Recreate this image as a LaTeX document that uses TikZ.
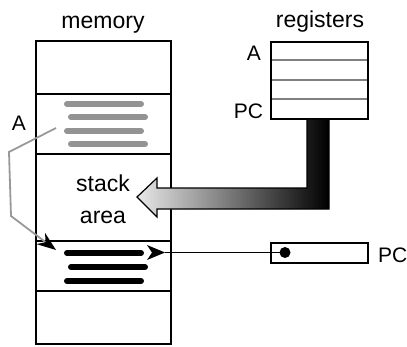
\documentclass[tikz,border=0pt]{standalone}
\usepackage{fontspec}
\setmainfont{Liberation Sans}
\usetikzlibrary{arrows.meta}
\begin{document}
\begin{tikzpicture}[x=1pt,y=-1pt,
  box/.style={draw=black,line width=2pt},
  lbl/.style={font=\fontsize{23}{25}\selectfont, inner sep=0pt, anchor=base},
  caplbl/.style={font=\fontsize{21}{23}\selectfont, inner sep=0pt, anchor=base},
  graybar/.style={line width=6pt,line cap=round,draw=gray!85},
  blackbar/.style={line width=6pt,line cap=round,draw=black},
  regline/.style={draw=gray,line width=1.5pt}]
\useasboundingbox (0,0) rectangle (407,346);
% memory column
\draw[box] (36,41) rectangle (171,344);
\foreach \yy in {94,154,241,291} \draw[box] (36,\yy) -- (171,\yy);
% gray instruction bars (A)
\draw[graybar] (67,104) -- (141,104);
\draw[graybar] (71,117) -- (145,117);
\draw[graybar] (67,131) -- (141,131);
\draw[graybar] (71,144) -- (145,144);
% black instruction bars (current)
\draw[blackbar] (67,253) -- (141,253);
\draw[blackbar] (71,267) -- (145,267);
\draw[blackbar] (67,281) -- (141,281);
% labels
\node[lbl] (memlbl) at (103,28) {memory};
\node[lbl] (reglbl) at (320,27) {registers};
\node[caplbl] (memA) at (19,130) {A};
\node[caplbl] (regA) at (254,60) {A};
\node[caplbl] (regPC) at (248.5,118) {PC};
\node[caplbl,anchor=base west] (pcPC) at (378,262) {PC};
\node[lbl] (stack) at (103,191) {stack};
\node[lbl] (area) at (103,223) {area};
% registers box
\draw[box] (271,42) rectangle (368,119);
\foreach \yy in {60,80,99} \draw[regline] (272,\yy) -- (367,\yy);
% thick shaded arrow from PC register into stack area
\shade[left color=gray!18, right color=black, draw=black, line width=1.2pt, line join=miter]
  (307,119) -- (329,119) -- (329,209) -- (157,209) -- (157,217) -- (137,197)
  -- (157,178) -- (157,188) -- (307,188) -- cycle;
% PC register box
\draw[box] (271,243) rectangle (368,263);
\coordinate (pcdot) at (285,252.5);
\fill (pcdot) circle (5.5);
% pointer from PC into memory
\coordinate (pcend) at (165,252.5);
\draw[line width=1.4pt] (pcend) -- (pcdot);
\fill (pcend) -- ++(-18,-7.5) -- ++(5,7.5) -- ++(-5,7.5) -- cycle;
% gray connector from A to current instruction
\coordinate (astart) at (56,128);
\coordinate (abend1) at (9,152);
\coordinate (abend2) at (11,216);
\coordinate (aend) at (56,250);
\draw[gray!80, line width=1.8pt, -{Stealth[black,length=19pt,width=14pt,inset=6pt]}]
  (astart) -- (abend1) -- (abend2) -- (aend);
\end{tikzpicture}
\end{document}
